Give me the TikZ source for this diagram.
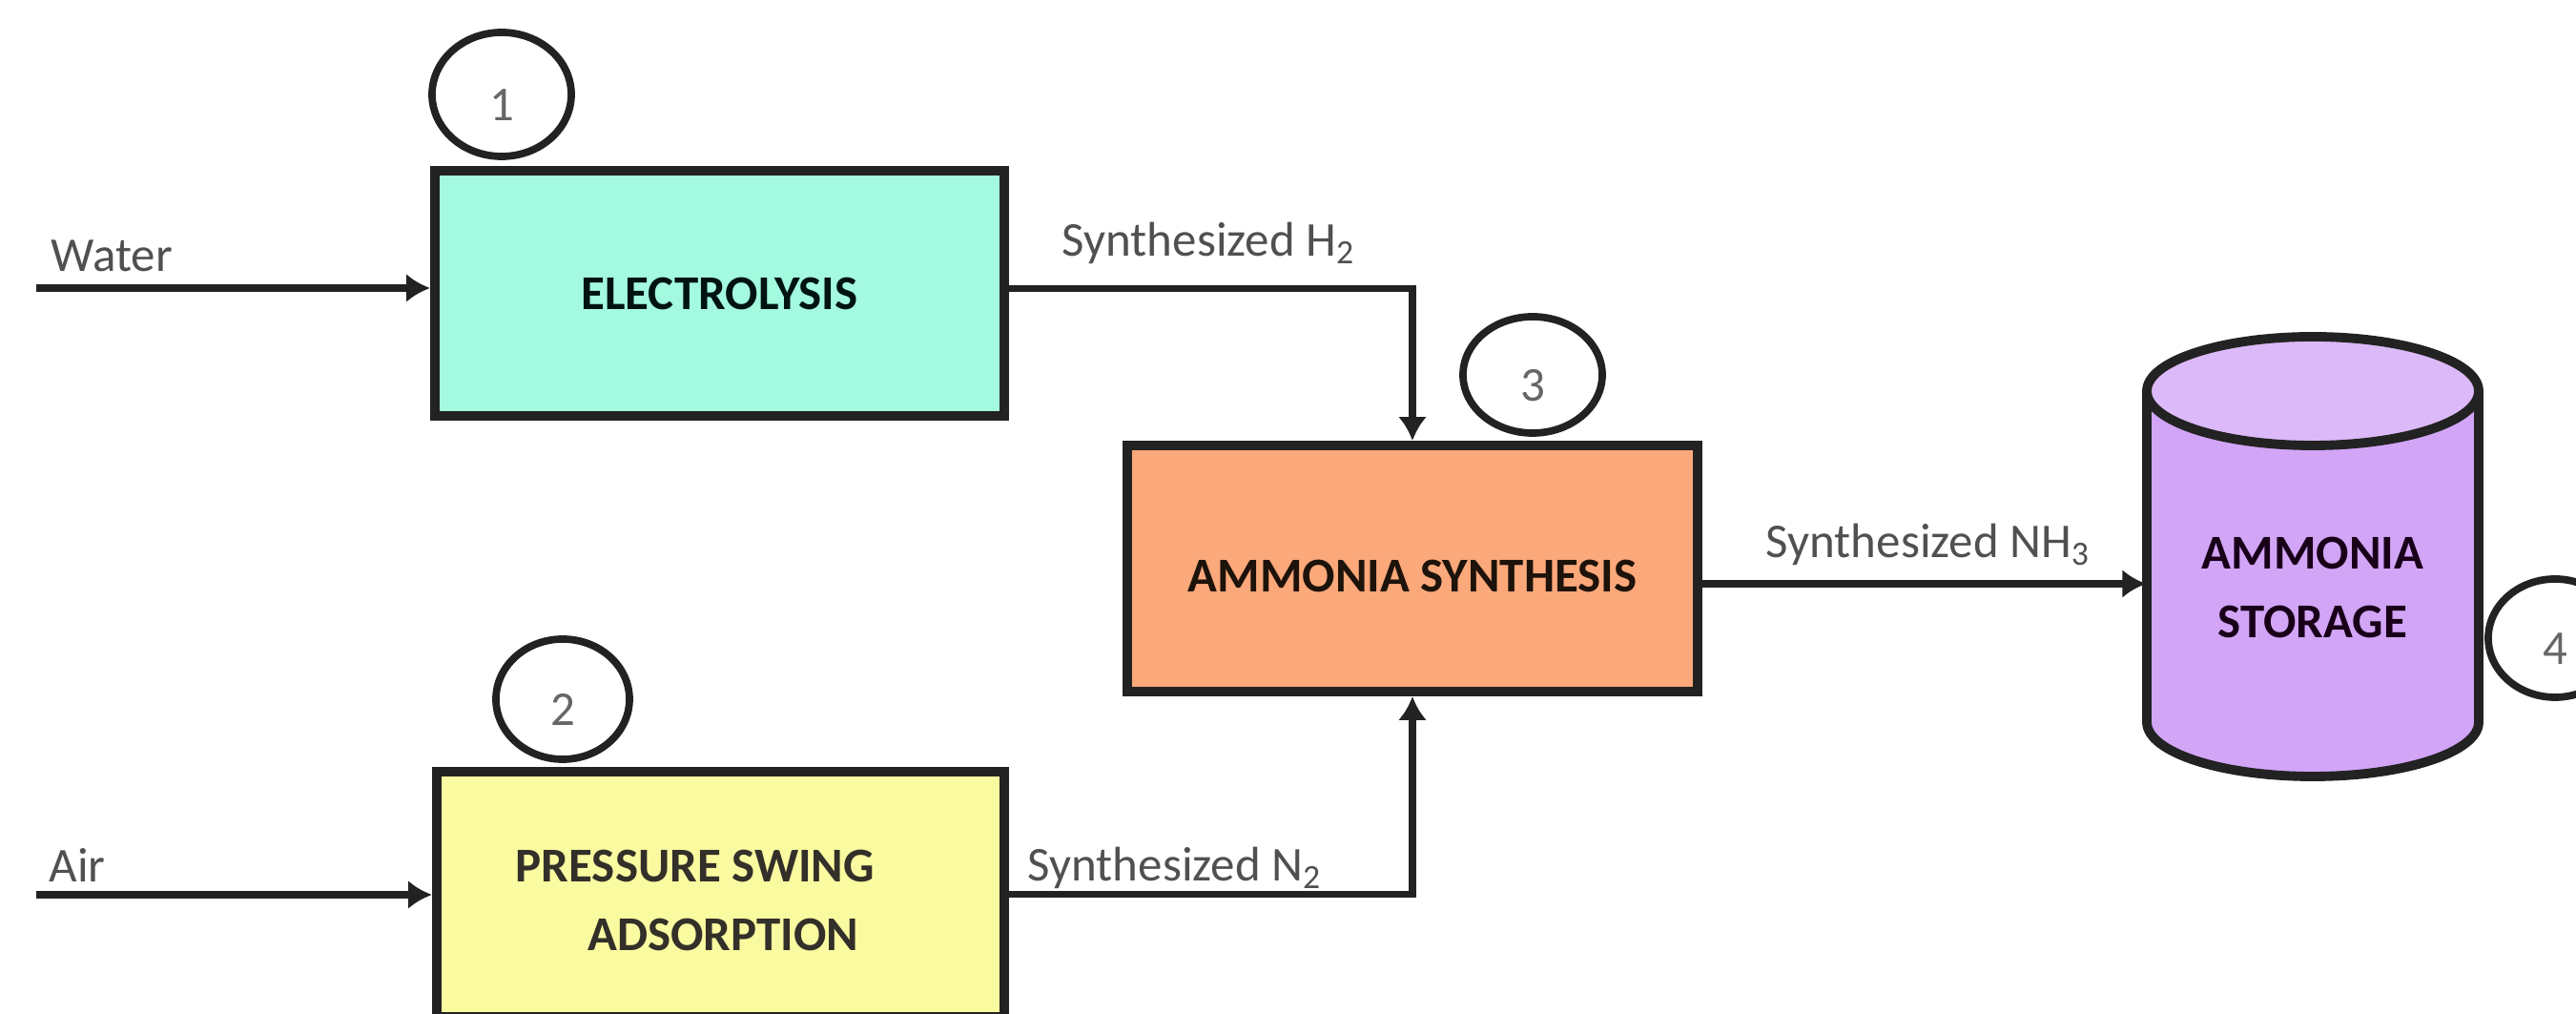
\documentclass[tikz,border=0pt]{standalone}
\usepackage{fontspec}
\setmainfont{Carlito}
\usepackage{tikz}
\usetikzlibrary{arrows.meta}
\usetikzlibrary{calc}
\usetikzlibrary{shapes.geometric}

\definecolor{edge}{HTML}{222222}
\definecolor{labelgray}{HTML}{505050}
\definecolor{numgray}{HTML}{666666}
\definecolor{mint}{HTML}{A3FADE}
\definecolor{salmon}{HTML}{FBA87A}
\definecolor{paleyellow}{HTML}{FAFAA0}
\definecolor{lilac}{HTML}{D2A5F7}
\definecolor{lilactop}{HTML}{DCB9F8}

\begin{document}
\begin{tikzpicture}[
        font=\fontsize{14.5}{17}\selectfont, % Fuente general
        unit/.style={draw=edge, line width=2.8pt, minimum width=5.97cm,
            minimum height=2.57cm, inner sep=0pt,
            font=\fontsize{14.5}{20}\selectfont\bfseries}, % Cajas de proceso
        flow/.style={-{Latex[length=2.5mm,width=3mm]}, line width=2.2pt, draw=edge}, % Corrientes
        stream/.style={text=labelgray, inner sep=0pt}, % Etiquetas de corrientes
        tag/.style={ellipse, draw=edge, line width=2.2pt, fill=white,
            inner sep=0pt, text=numgray} % Numeros de etapa
    ]
        % --- Marco de la figura ---
        \useasboundingbox (0,0) rectangle (27.01,10.63);
        \clip (0,0) rectangle (27.01,10.63);

        % --- Cajas de proceso ---
        \node[unit, fill=mint, text=black!85!teal] (elec) at (7.545,7.555) {ELECTROLYSIS};
        \node[unit, fill=salmon, minimum width=5.98cm, minimum height=2.58cm,
            text=black!85!brown] (syn) at (14.81,4.67)
            {\raisebox{-0.8mm}[\height][\depth]{AMMONIA SYNTHESIS}};
        \node[unit, fill=paleyellow, minimum width=5.95cm] (psa) at (7.555,1.256) {};
        \node[font=\fontsize{14.5}{20.4}\selectfont\bfseries, text=black!85!olive,
            align=left, anchor=west, inner sep=0pt] (psatxt) at (5.40,1.19)
            {PRESSURE SWING\\\hspace*{0.755cm}ADSORPTION};

        % --- Tanque de almacenamiento ---
        \fill[lilac] (22.51,6.53) -- (22.51,3.06)
            arc[start angle=180, end angle=360, x radius=1.74, y radius=0.57]
            -- (25.99,6.53) -- cycle;
        \draw[edge, line width=2.8pt] (22.51,6.53) -- (22.51,3.06)
            arc[start angle=180, end angle=360, x radius=1.74, y radius=0.57]
            -- (25.99,6.53);
        \draw[edge, fill=lilactop, line width=2.8pt] (24.25,6.53) ellipse (1.74 and 0.57);
        \node[minimum width=3.48cm, inner sep=0pt, align=center, text=black!80!violet,
            font=\fontsize{14.5}{20.7}\selectfont\bfseries] (store) at (24.25,4.47)
            {AMMONIA\\STORAGE};

        % --- Numeros de etapa ---
        \node[tag, minimum width=1.46cm, minimum height=1.30cm] (n1) at (5.26,9.64)
            {\raisebox{-1.1mm}[\height][\depth]{1}};
        \node[tag, minimum width=1.40cm, minimum height=1.26cm] (n2) at (5.90,3.30)
            {\raisebox{-1.1mm}[\height][\depth]{2}};
        \node[tag, minimum width=1.46cm, minimum height=1.22cm] (n3) at (16.07,6.70)
            {\raisebox{-1.1mm}[\height][\depth]{3}};
        \node[tag, minimum width=1.40cm, minimum height=1.24cm] (n4) at (26.79,3.94)
            {\raisebox{-1.1mm}[\height][\depth]{4}};

        % --- Corrientes de entrada ---
        \coordinate (water) at (0.38,7.61);
        \coordinate (air) at (0.38,1.25);
        \draw[flow] (water) -- (water -| elec.west);
        \draw[flow] (air) -- (air -| psa.west);
        \node[stream, anchor=west] (wlabel) at (0.53,7.95) {Water};
        \node[stream, anchor=west] (alabel) at (0.51,1.56) {Air};

        % --- Corrientes de producto ---
        \coordinate (h2) at ($(elec.east)+(0,0.05)$);
        \draw[flow] (h2) -| (syn.north);
        \draw[flow] (psa.east) -| (syn.south);
        \coordinate (nh3) at ($(syn.east)+(0,-0.16)$);
        \draw[flow] (nh3) -- (nh3 -| store.west);
        \node[stream, anchor=west] (h2label) at (11.13,8.08) {Synthesized H\textsubscript{2}};
        \node[stream, anchor=west] (n2label) at (10.77,1.53) {Synthesized N\textsubscript{2}};
        \node[stream, anchor=west] (nh3label) at (18.51,4.92) {Synthesized NH\textsubscript{3}};

    \end{tikzpicture}
\end{document}
